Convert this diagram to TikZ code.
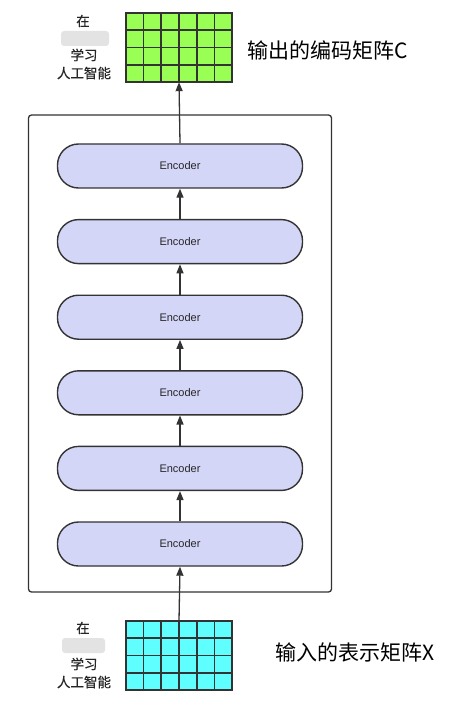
\documentclass[tikz,border=0pt]{standalone}
\usepackage{fontspec}
\setmainfont{Liberation Sans}
\newfontfamily\cjk{Noto Sans CJK SC}
\newfontfamily\cjkb[FakeBold=0.6]{Noto Sans CJK SC}
\usetikzlibrary{arrows.meta,calc}
\definecolor{encfill}{RGB}{212,214,248}
\definecolor{gridgreen}{RGB}{153,255,85}
\definecolor{gridcyan}{RGB}{95,255,255}
\definecolor{linecol}{RGB}{51,51,51}
\tikzset{
  encbox/.style={draw=linecol, line width=1.4pt, fill=encfill, rounded corners=21pt,
    minimum width=245pt, minimum height=44pt, inner sep=0pt, font=\fontsize{11}{13}\selectfont, text=black!85},
  flow/.style={draw=linecol, line width=1.3pt, -{Triangle[length=9pt,width=7pt]}},
  cell/.style={draw=linecol, line width=1.6pt},
  sidelab/.style={font=\cjkb\fontsize{13.5}{18}\selectfont, align=center, text=black!85},
  bigtext/.style={font=\cjk\fontsize{21}{24}\selectfont, anchor=west},
  smudge/.style={fill=gray!22, draw=none, rounded corners=3pt}
}
\begin{document}
\begin{tikzpicture}[x=1pt,y=-1pt]
\useasboundingbox (0,0) rectangle (471,711);
% outer box
\node[draw=linecol, line width=1.3pt, rounded corners=3pt, minimum width=303pt, minimum height=477pt, inner sep=0pt] (outer) at (180,353.5) {};
% encoders
\foreach \i/\y in {1/544,2/468.4,3/392.8,4/317.2,5/241.6,6/166}{
  \node[encbox] (e\i) at (180,\y) {Encoder};
}
% top grid (green)
\node[inner sep=0pt, minimum width=106pt, minimum height=69pt] (cgrid) at (179,47.5) {};
\fill[gridgreen] (cgrid.north west) rectangle (cgrid.south east);
\foreach \k in {1,...,5}{ \draw[cell] ($(cgrid.north west)!\k/6!(cgrid.north east)$) -- ($(cgrid.south west)!\k/6!(cgrid.south east)$); }
\foreach \k in {1,...,3}{ \draw[cell] ($(cgrid.north west)!\k/4!(cgrid.south west)$) -- ($(cgrid.north east)!\k/4!(cgrid.south east)$); }
\draw[cell] (cgrid.north west) rectangle (cgrid.south east);
% bottom grid (cyan)
\node[inner sep=0pt, minimum width=106pt, minimum height=69pt] (xgrid) at (179,655.5) {};
\fill[gridcyan] (xgrid.north west) rectangle (xgrid.south east);
\foreach \k in {1,...,5}{ \draw[cell] ($(xgrid.north west)!\k/6!(xgrid.north east)$) -- ($(xgrid.south west)!\k/6!(xgrid.south east)$); }
\foreach \k in {1,...,3}{ \draw[cell] ($(xgrid.north west)!\k/4!(xgrid.south west)$) -- ($(xgrid.north east)!\k/4!(xgrid.south east)$); }
\draw[cell] (xgrid.north west) rectangle (xgrid.south east);
% arrows
\draw[flow] (xgrid.north) -- (e1.south);
\draw[flow] (e1.north) -- (e2.south);
\draw[flow] (e2.north) -- (e3.south);
\draw[flow] (e3.north) -- (e4.south);
\draw[flow] (e4.north) -- (e5.south);
\draw[flow] (e5.north) -- (e6.south);
\draw[flow] (e6.north) -- (cgrid.south);
% side labels top
\node[sidelab] (t1) at (83,21) {在};
\fill[smudge] (61,31) rectangle (109,46);
\node[sidelab] (t2) at (84,64) {学习\\人工智能};
% side labels bottom
\node[sidelab] (b1) at (83,628) {在};
\fill[smudge] (62,638) rectangle (105,653);
\node[sidelab] (b2) at (84,673) {学习\\人工智能};
% right texts
\node[bigtext] (ctext) at (244,50) {输出的编码矩阵C};
\node[bigtext] (xtext) at (272,652) {输入的表示矩阵X};
\end{tikzpicture}
\end{document}
